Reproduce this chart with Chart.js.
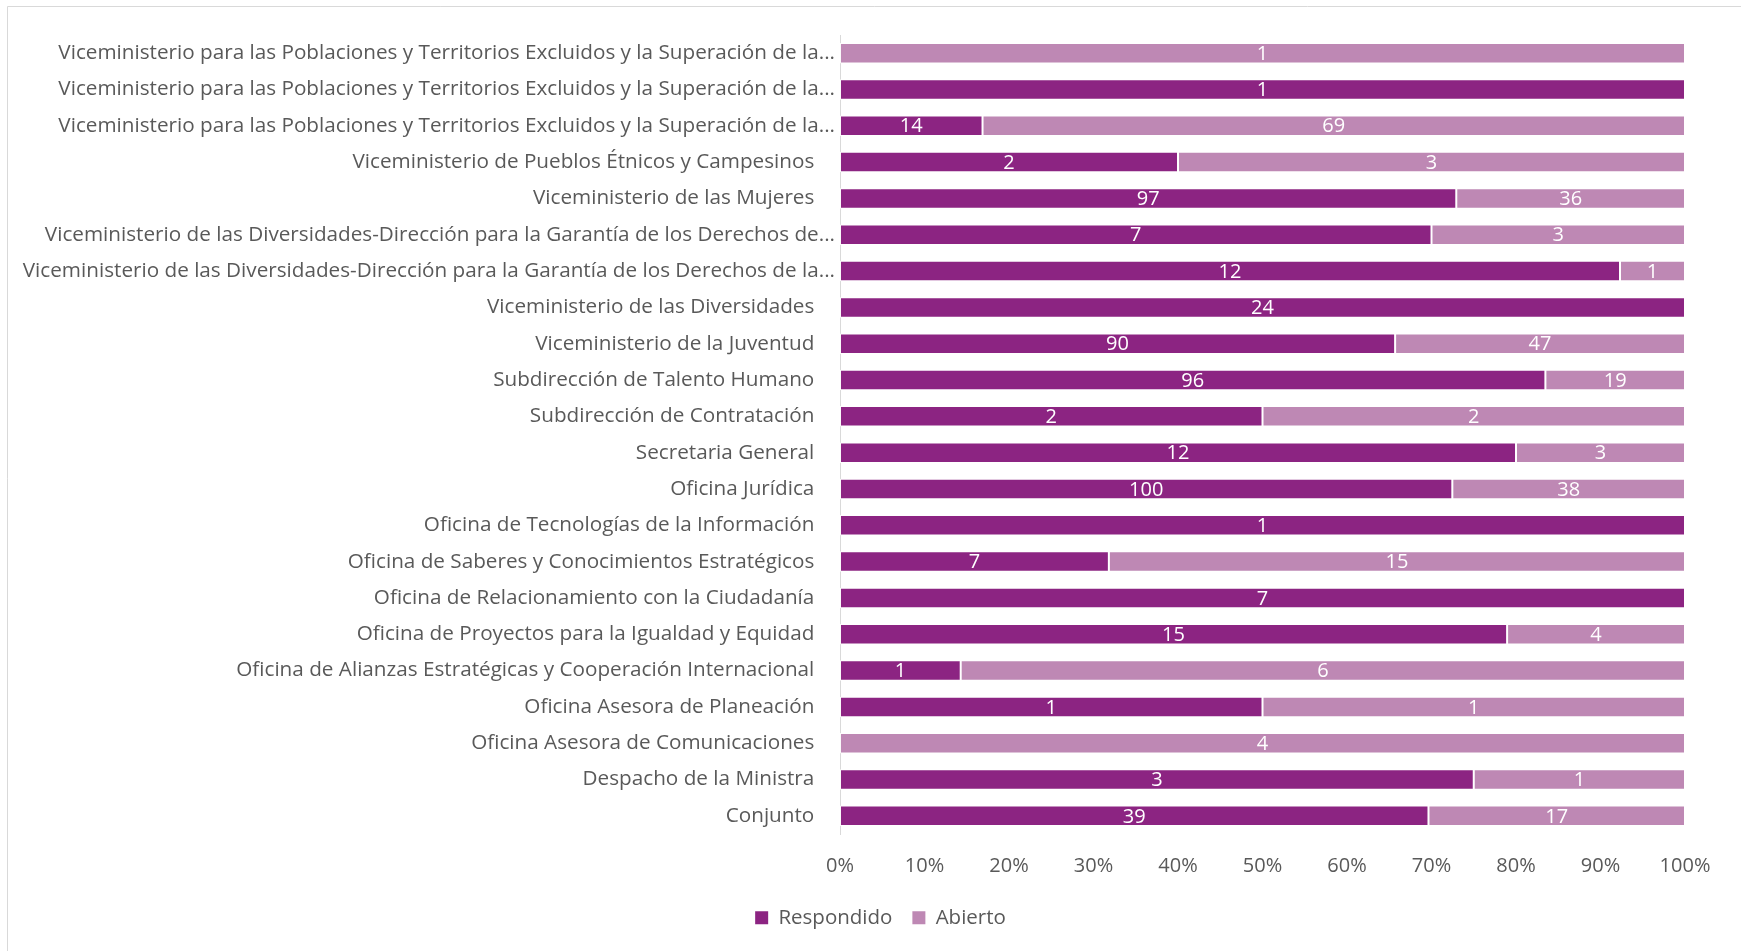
<!DOCTYPE html>
<html>
<head>
<meta charset="utf-8">
<script src="https://cdn.jsdelivr.net/npm/chart.js@4.4.1/dist/chart.umd.min.js"></script>
<style>
  html, body { margin: 0; padding: 0; background: #ffffff; }
  #wrap { width: 1741px; height: 951px; }
</style>
</head>
<body>
<div id="wrap"><canvas id="c" width="1741" height="951"></canvas></div>
<script>
// ---- Data (top to bottom as displayed) ----
const categories = [
  "Viceministerio para las Poblaciones y Territorios Excluidos y la Superación de la...",
  "Viceministerio para las Poblaciones y Territorios Excluidos y la Superación de la...",
  "Viceministerio para las Poblaciones y Territorios Excluidos y la Superación de la...",
  "Viceministerio de Pueblos Étnicos y Campesinos",
  "Viceministerio de las Mujeres",
  "Viceministerio de las Diversidades-Dirección para la Garantía de los Derechos de...",
  "Viceministerio de las Diversidades-Dirección para la Garantía de los Derechos de la...",
  "Viceministerio de las Diversidades",
  "Viceministerio de la Juventud",
  "Subdirección de Talento Humano",
  "Subdirección de Contratación",
  "Secretaria General",
  "Oficina Jurídica",
  "Oficina de Tecnologías de la Información",
  "Oficina de Saberes y Conocimientos Estratégicos",
  "Oficina de Relacionamiento con la Ciudadanía",
  "Oficina de Proyectos para la Igualdad y Equidad",
  "Oficina de Alianzas Estratégicas y Cooperación Internacional",
  "Oficina Asesora de Planeación",
  "Oficina Asesora de Comunicaciones",
  "Despacho de la Ministra",
  "Conjunto"
];
const respondido = [0, 1, 14, 2, 97, 7, 12, 24, 90, 96, 2, 12, 100, 1, 7, 7, 15, 1, 1, 0, 3, 39];
const abierto    = [1, 0, 69, 3, 36, 3, 1, 0, 47, 19, 2, 3, 38, 0, 15, 0, 4, 6, 1, 4, 1, 17];
const seriesNames = ["Respondido", "Abierto"];
const xTickValues = [0, 10, 20, 30, 40, 50, 60, 70, 80, 90, 100];

// percent-stacked values derived from the counts
const totals = respondido.map((r, i) => r + abierto[i]);
const pctR = respondido.map((r, i) => totals[i] ? r / totals[i] * 100 : 0);
const pctA = abierto.map((a, i) => totals[i] ? a / totals[i] * 100 : 0);
const counts = [respondido, abierto];

const FONT = "'Open Sans', 'Liberation Sans', sans-serif";
const TXT = '#595959';
const LEGEND_SHIFT = 38;

const framePlugin = {
  id: 'frame',
  beforeDraw(chart) {
    const ctx = chart.ctx;
    ctx.save();
    ctx.fillStyle = '#ffffff';
    ctx.fillRect(0, 0, chart.width, chart.height);
    ctx.strokeStyle = '#d9d9d9';
    ctx.lineWidth = 1;
    ctx.beginPath();
    ctx.moveTo(7.5, chart.height);
    ctx.lineTo(7.5, 6.5);
    ctx.lineTo(chart.width, 6.5);
    ctx.stroke();
    ctx.restore();
  },
  afterLayout(chart) {
    if (chart.legend) {
      chart.legend.left += LEGEND_SHIFT;
      chart.legend.right += LEGEND_SHIFT;
    }
  }
};

const valueLabels = {
  id: 'valueLabels',
  afterDatasetsDraw(chart) {
    const ctx = chart.ctx;
    ctx.save();
    ctx.fillStyle = '#ffffff';
    ctx.font = "20px " + FONT;
    ctx.textAlign = 'center';
    ctx.textBaseline = 'middle';
    chart.data.datasets.forEach((ds, di) => {
      const meta = chart.getDatasetMeta(di);
      meta.data.forEach((el, i) => {
        const v = counts[di][i];
        if (!v) return;
        const p = el.getProps(['x', 'y', 'base'], true);
        ctx.fillText(String(v), (p.x + p.base) / 2, p.y + 1);
      });
    });
    ctx.restore();
  }
};

new Chart(document.getElementById('c'), {
  type: 'bar',
  data: {
    labels: categories,
    datasets: [
      { label: seriesNames[0], data: pctR, backgroundColor: '#8C2482', borderColor: 'rgba(255,255,255,0.85)', borderWidth: 1, borderSkipped: false },
      { label: seriesNames[1], data: pctA, backgroundColor: '#BE88B4', borderColor: 'rgba(255,255,255,0.85)', borderWidth: 1, borderSkipped: false }
    ]
  },
  options: {
    indexAxis: 'y',
    responsive: false,
    animation: false,
    devicePixelRatio: 1,
    layout: { padding: { left: 0, right: 56, top: 35, bottom: 13 } },
    datasets: { bar: { categoryPercentage: 1.0, barPercentage: 0.565 } },
    scales: {
      x: {
        type: 'linear', stacked: true, min: 0, max: 100,
        afterBuildTicks(scale) { scale.ticks = xTickValues.map(v => ({ value: v })); },
        grid: { display: false, drawTicks: false },
        border: { display: false },
        ticks: { color: TXT, font: { family: FONT, size: 20 }, padding: 20, maxRotation: 0, autoSkip: false,
                 callback: v => v + '%' },
        afterFit(scale) { scale.height = 53.5; }
      },
      y: {
        stacked: true,
        grid: { display: false, drawTicks: false },
        border: { display: true, color: '#d9d9d9', width: 1 },
        ticks: { color: TXT, font: { family: FONT, size: 20.7 }, padding: 5, autoSkip: false,
                 callback(v, i) { const l = categories[i]; return l.endsWith('...') ? l : l + '\u2003'; } },
        afterFit(scale) { scale.width = 840; }
      }
    },
    plugins: {
      legend: {
        position: 'bottom',
        labels: {
          color: TXT, font: { family: FONT, size: 20.5 }, boxWidth: 13, boxHeight: 13, padding: 20,
          generateLabels(chart) {
            return Chart.defaults.plugins.legend.labels.generateLabels(chart).map(l => Object.assign(l, { lineWidth: 0, strokeStyle: 'rgba(0,0,0,0)' }));
          }
        }
      },
      tooltip: { enabled: false },
      title: { display: false }
    }
  },
  plugins: [framePlugin, valueLabels]
});
</script>
</body>
</html>
